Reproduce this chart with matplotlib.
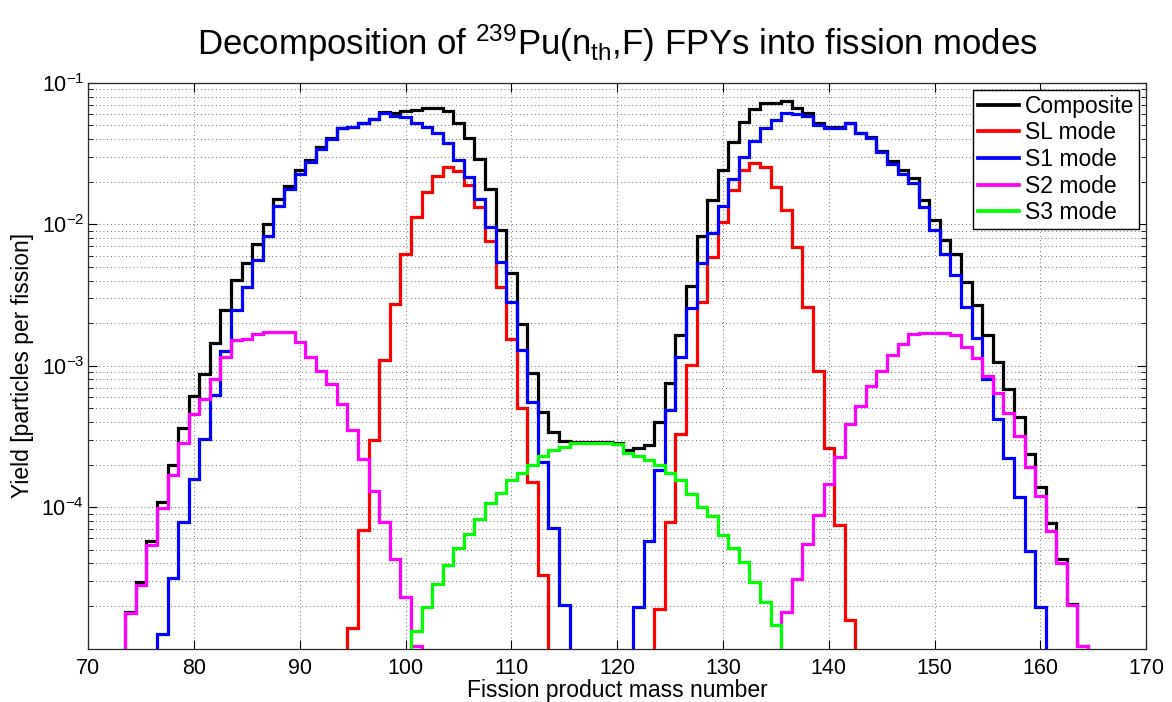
import numpy as np
import matplotlib
matplotlib.use('Agg')
import matplotlib.pyplot as plt
from matplotlib.lines import Line2D
from matplotlib.ticker import LogLocator, NullFormatter, LogFormatterSciNotation, FixedLocator

plt.rcParams['font.family'] = ['Liberation Sans', 'DejaVu Sans']
plt.rcParams['mathtext.fontset'] = 'custom'
plt.rcParams['mathtext.rm'] = 'Liberation Sans'
plt.rcParams['mathtext.it'] = 'Liberation Sans:italic'
plt.rcParams['mathtext.bf'] = 'Liberation Sans:bold'

# ---- data (yield per mass number, bins centred on integer A) ----
composite_start = 74
composite = [1.8e-5, 2.94e-5, 5.8e-5, 1.09e-4, 1.99e-4, 3.65e-4, 6.1e-4, 8.8e-4, 1.44e-3, 2.47e-3,
             4.03e-3, 5.3e-3, 7.3e-3, 1.0e-2, 1.52e-2, 1.86e-2, 2.42e-2, 2.85e-2, 3.54e-2, 4.06e-2,
             4.82e-2, 4.9e-2, 5.2e-2, 5.55e-2, 6.2e-2, 6.1e-2, 6.3e-2, 6.4e-2, 6.6e-2, 6.6e-2,
             6.3e-2, 5.2e-2, 4.06e-2, 2.88e-2, 1.77e-2, 9.1e-3, 4.5e-3, 1.96e-3, 8.9e-4, 4.73e-4,
             3.42e-4, 2.95e-4, 2.9e-4, 2.9e-4, 2.9e-4, 2.9e-4, 2.85e-4, 2.53e-4, 2.6e-4, 2.75e-4,
             4.0e-4, 7.5e-4, 1.65e-3, 3.65e-3, 8.2e-3, 1.49e-2, 2.42e-2, 3.84e-2, 5.32e-2, 6.5e-2,
             7.25e-2, 7.2e-2, 7.4e-2, 6.6e-2, 6.1e-2, 5.17e-2, 4.85e-2, 4.85e-2, 5.2e-2, 4.45e-2,
             4.12e-2, 3.31e-2, 2.82e-2, 2.42e-2, 2.11e-2, 1.49e-2, 1.08e-2, 7.7e-3, 6.2e-3, 3.93e-3,
             2.69e-3, 1.65e-3, 1.07e-3, 6.8e-4, 4.36e-4, 2.37e-4, 1.38e-4, 7.7e-5, 4.27e-5, 2.08e-5,
             1.04e-5]

sl_light_start = 95
sl_light = [1.39e-5, 6.9e-5, 3.0e-4, 1.1e-3, 2.73e-3, 6.2e-3, 1.13e-2, 1.7e-2, 2.2e-2, 2.53e-2,
            2.39e-2, 1.9e-2, 1.33e-2, 7.6e-3, 3.6e-3, 1.54e-3, 5.0e-4, 1.51e-4, 3.3e-5]
sl_heavy_start = 124
sl_heavy = [1.89e-5, 7.9e-5, 3.3e-4, 1.01e-3, 2.83e-3, 5.9e-3, 1.04e-2, 1.75e-2, 2.42e-2, 2.7e-2,
            2.53e-2, 1.82e-2, 1.26e-2, 6.9e-3, 2.61e-3, 9.1e-4, 2.6e-4, 7.5e-5, 1.59e-5]

s1_light_start = 77
s1_light = [1.27e-5, 3.13e-5, 7.9e-5, 1.57e-4, 3.03e-4, 6.2e-4, 1.27e-3, 2.47e-3, 3.6e-3, 5.6e-3,
            8.3e-3, 1.35e-2, 1.77e-2, 2.25e-2, 2.77e-2, 3.39e-2, 3.98e-2, 4.77e-2, 4.85e-2, 5.18e-2,
            5.52e-2, 6.1e-2, 5.83e-2, 5.7e-2, 5.23e-2, 4.85e-2, 4.4e-2, 3.78e-2, 2.85e-2, 2.15e-2,
            1.52e-2, 9.6e-3, 5.4e-3, 2.84e-3, 1.3e-3, 5.5e-4, 2.1e-4, 7.1e-5, 2.03e-5]
s1_heavy_start = 122
s1_heavy = [1.98e-5, 5.8e-5, 1.83e-4, 4.87e-4, 1.15e-3, 2.54e-3, 5.28e-3, 8.7e-3, 1.35e-2, 2.08e-2,
            2.98e-2, 3.9e-2, 4.77e-2, 5.47e-2, 6.15e-2, 6.0e-2, 5.83e-2, 5.04e-2, 4.82e-2, 4.82e-2,
            5.18e-2, 4.4e-2, 4.06e-2, 3.26e-2, 2.67e-2, 2.25e-2, 1.97e-2, 1.32e-2, 9.1e-3, 6.2e-3,
            4.37e-3, 2.58e-3, 1.58e-3, 8.0e-4, 4.17e-4, 2.21e-4, 1.17e-4, 4.9e-5, 1.98e-5]

s2_light_start = 74
s2_light = [1.79e-5, 2.8e-5, 5.4e-5, 9.9e-5, 1.7e-4, 2.86e-4, 4.56e-4, 5.8e-4, 8.0e-4, 1.16e-3,
            1.52e-3, 1.55e-3, 1.67e-3, 1.74e-3, 1.74e-3, 1.74e-3, 1.48e-3, 1.16e-3, 9.2e-4, 7.4e-4,
            5.4e-4, 3.5e-4, 2.18e-4, 1.3e-4, 7.8e-5, 4.3e-5, 2.3e-5, 1.04e-5]
s2_heavy_start = 136
s2_heavy = [1.8e-5, 3.1e-5, 5.5e-5, 8.8e-5, 1.46e-4, 2.25e-4, 3.85e-4, 5.2e-4, 7.2e-4, 9.2e-4,
            1.19e-3, 1.42e-3, 1.67e-3, 1.69e-3, 1.71e-3, 1.69e-3, 1.65e-3, 1.36e-3, 1.13e-3, 8.4e-4,
            6.4e-4, 4.6e-4, 3.2e-4, 1.93e-4, 1.19e-4, 6.8e-5, 4.05e-5, 2.03e-5, 1.04e-5]

s3_start = 101
s3 = [1.33e-5, 1.98e-5, 2.86e-5, 3.9e-5, 5.1e-5, 6.45e-5, 8.3e-5, 1.07e-4, 1.25e-4, 1.55e-4,
      1.75e-4, 1.99e-4, 2.3e-4, 2.53e-4, 2.67e-4, 2.82e-4, 2.85e-4, 2.85e-4, 2.82e-4, 2.8e-4,
      2.42e-4, 2.3e-4, 2.15e-4, 1.99e-4, 1.75e-4, 1.55e-4, 1.24e-4, 1.0e-4, 8.6e-5, 6.3e-5,
      5.1e-5, 4.1e-5, 2.97e-5, 2.14e-5, 1.47e-5]

labels = ['Composite', 'SL mode', 'S1 mode', 'S2 mode', 'S3 mode']
colors = ['#000000', '#ff0000', '#0000ff', '#ff00ff', '#00ff00']

xticks = list(range(70, 171, 10))

# ---- figure ----
fig = plt.figure(figsize=(11.72, 7.02), dpi=100)
ax = fig.add_axes([0.0753, 0.0762, 0.9027, 0.8058])
ax.set_yscale('log')

LW = 2.3


def draw(start, vals, color):
    vals = np.asarray(vals, dtype=float)
    edges = np.arange(start, start + len(vals) + 1) - 0.5
    ax.stairs(vals, edges, baseline=1e-8, color=color, lw=LW, zorder=3)


draw(composite_start, composite, colors[0])
draw(sl_light_start, sl_light, colors[1])
draw(sl_heavy_start, sl_heavy, colors[1])
draw(s1_light_start, s1_light, colors[2])
draw(s1_heavy_start, s1_heavy, colors[2])
draw(s2_light_start, s2_light, colors[3])
draw(s2_heavy_start, s2_heavy, colors[3])
draw(s3_start, s3, colors[4])

ax.set_xlim(70, 170)
ax.set_ylim(1e-5, 1e-1)
ax.set_xticks(xticks)
ax.yaxis.set_major_locator(FixedLocator([1e-4, 1e-3, 1e-2, 1e-1]))
ax.yaxis.set_major_formatter(LogFormatterSciNotation())
ax.yaxis.set_minor_locator(LogLocator(base=10, subs=np.arange(2, 10), numticks=20))
ax.yaxis.set_minor_formatter(NullFormatter())

ax.tick_params(which='both', direction='in', top=True, right=True, labelsize=15.5)
ax.tick_params(axis='x', which='major', pad=7)
ax.tick_params(axis='y', which='major', pad=3)
ax.tick_params(which='major', length=6.5, width=0.8)
ax.tick_params(which='minor', length=3.5, width=0.6)
for s in ax.spines.values():
    s.set_linewidth(0.9)
    s.set_color('0.15')

grid_kw = dict(color='0.25', linestyle=(0, (1, 3.5)), linewidth=0.6)
ax.grid(True, which='major', axis='both', **grid_kw)
ax.grid(True, which='minor', axis='y', **grid_kw)
ax.set_axisbelow(True)

ax.set_xlabel('Fission product mass number', fontsize=16.5, labelpad=0)
ax.set_ylabel('Yield [particles per fission]', fontsize=16.5, labelpad=5)
ax.set_title(r'Decomposition of $^{239}$Pu(n$_{\mathrm{th}}$,F) FPYs into fission modes',
             fontsize=25, pad=20)

handles = [Line2D([], [], color=c, lw=LW + 0.4) for c in colors]
leg = ax.legend(handles, labels, loc='upper right', fontsize=16.5, frameon=True, fancybox=False,
                edgecolor='black', framealpha=1, borderaxespad=0.3, handlelength=1.8,
                handletextpad=0.25, labelspacing=0.16, borderpad=0.22)
leg.get_frame().set_linewidth(1.0)

fig.savefig('out.png', dpi=100)
